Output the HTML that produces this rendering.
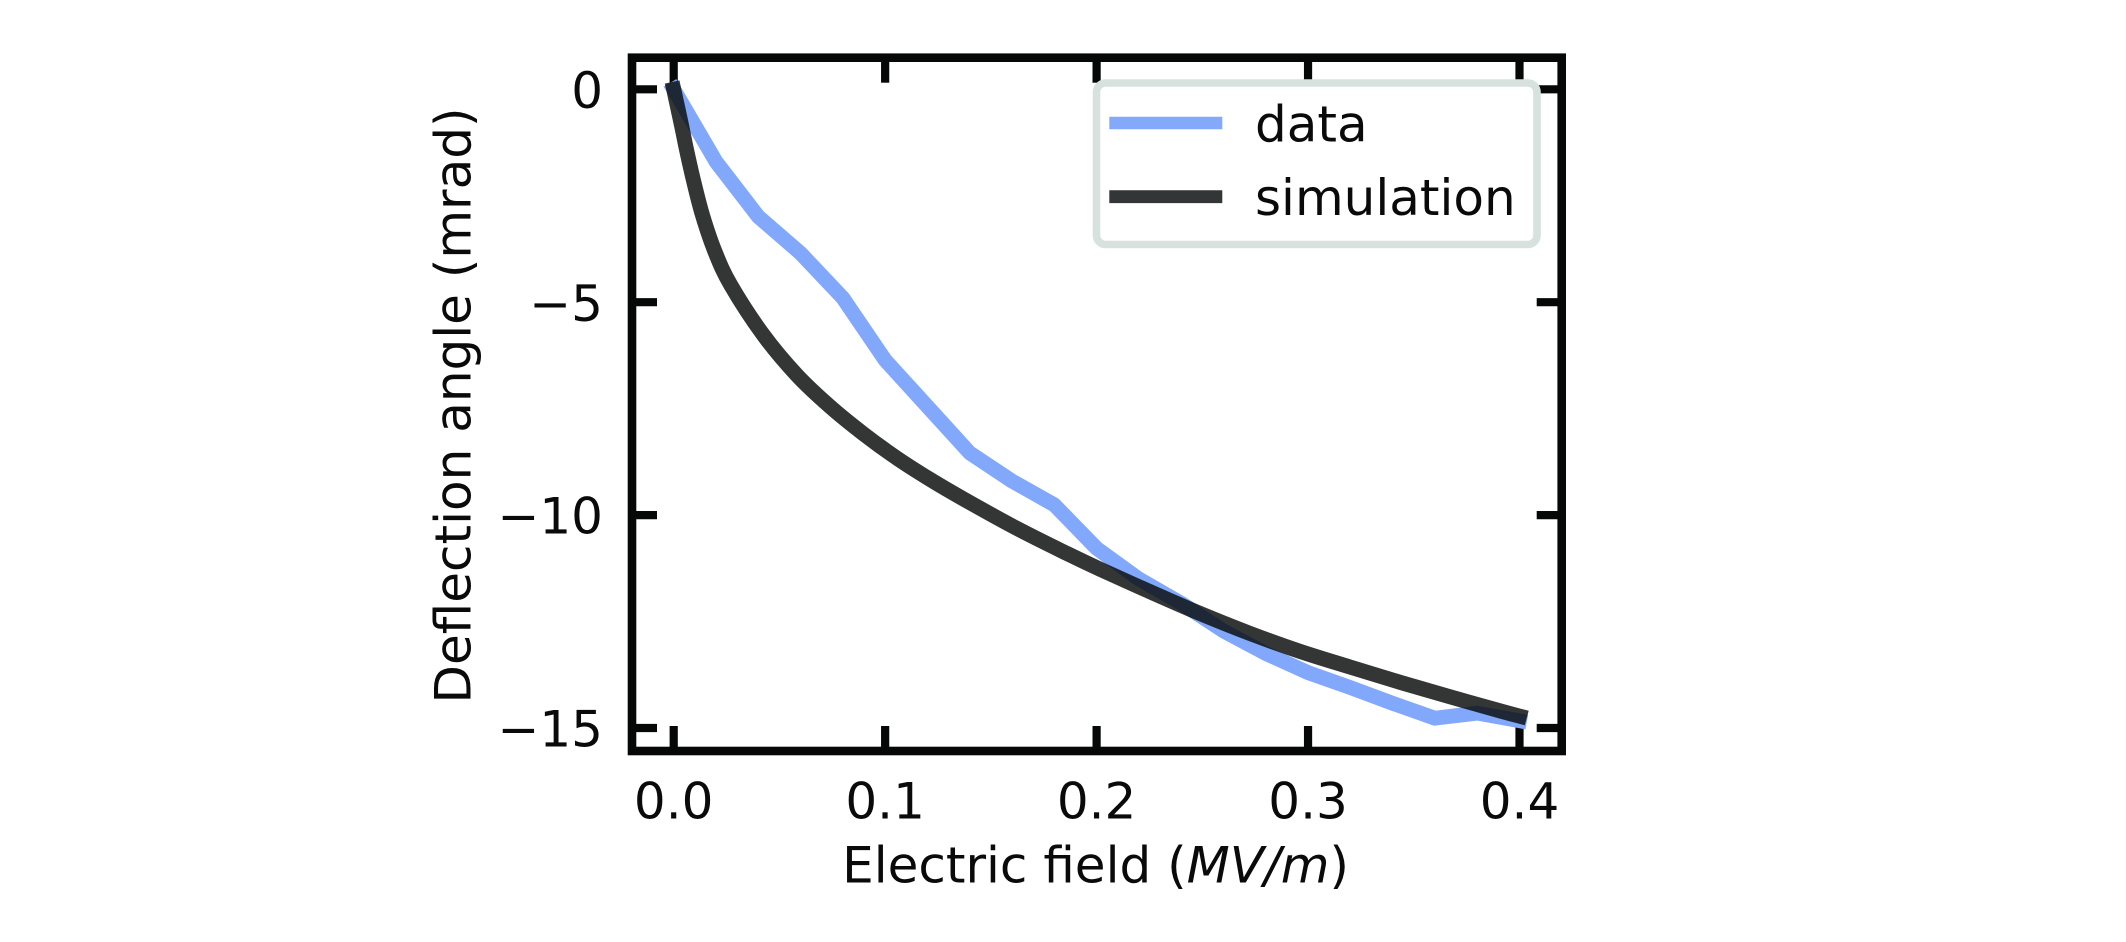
<!DOCTYPE html>
<html lang="en">
<head>
<meta charset="utf-8">
<title>Deflection angle vs electric field</title>
<style>
  html, body { margin: 0; padding: 0; background: #fff; }
  svg { display: block; }
  text { font-family: "DejaVu Sans", "Liberation Sans", sans-serif; font-size: 50px; fill: #0a0a0a; }
</style>
</head>
<body>
<svg id="chart" width="2126" height="942" viewBox="0 0 2126 942" xmlns="http://www.w3.org/2000/svg">
  <rect x="0" y="0" width="2126" height="942" fill="#ffffff"/>
  <g id="ticks"></g>
  <g id="series"></g>
  <rect x="632" y="57.7" width="929.7" height="693.3" fill="none" stroke="#060808" stroke-width="8.6" stroke-linejoin="miter"/>
  <g id="tick-labels"></g>
  <text x="1095.6" y="882.7" text-anchor="middle">Electric field (<tspan font-style="italic">MV/m</tspan>)</text>
  <text transform="translate(470.7 405.5) rotate(-90)" text-anchor="middle">Deflection angle (mrad)</text>
  <g>
    <rect x="1096.5" y="83" width="440.5" height="161.5" rx="9" ry="9" fill="#ffffff" stroke="#d7e1de" stroke-width="7.6"/>
    <line x1="1109.3" y1="123" x2="1222.3" y2="123" stroke="#84a9fb" stroke-width="12.6"/>
    <text x="1255" y="141.5">data</text>
    <line x1="1109.3" y1="196.7" x2="1222.3" y2="196.7" stroke="#333636" stroke-width="12.8"/>
    <text x="1255" y="215">simulation</text>
  </g>
</svg>
<script>
const xTickValues = [0, 0.1, 0.2, 0.3, 0.4];
const xTickLabels = ['0.0', '0.1', '0.2', '0.3', '0.4'];
const yTickValues = [0, -5, -10, -15];
const yTickLabels = ['0', '\u22125', '\u221210', '\u221215'];

const dataField = [0, 0.02, 0.04, 0.06, 0.08, 0.10, 0.12, 0.14, 0.16, 0.18, 0.20, 0.22, 0.24, 0.26, 0.28, 0.30, 0.32, 0.34, 0.36, 0.38, 0.40];
const dataAngle = [0, -1.70, -2.99, -3.85, -4.90, -6.36, -7.45, -8.54, -9.20, -9.76, -10.78, -11.50, -12.07, -12.72, -13.25, -13.70, -14.05, -14.42, -14.77, -14.65, -14.83];

const simField = [0, 0.0035, 0.0062, 0.0095, 0.0137, 0.0195, 0.027, 0.0424, 0.0582, 0.0739, 0.0897, 0.1055, 0.1212, 0.137, 0.1622, 0.1859, 0.2016, 0.2253, 0.2489, 0.2726, 0.2962, 0.32, 0.3437, 0.3674, 0.391, 0.40];
const simAngle = [0, -0.80, -1.45, -2.17, -2.97, -3.81, -4.60, -5.77, -6.71, -7.45, -8.09, -8.66, -9.16, -9.62, -10.31, -10.90, -11.27, -11.80, -12.31, -12.78, -13.20, -13.57, -13.93, -14.27, -14.60, -14.72];

const NS = 'http://www.w3.org/2000/svg';
const xScale = v => 673.7 + 2114.5 * v;
const yScale = v => 89.3 - 42.58 * v;
const TICK_LEN = 25;
const FRAME = { left: 632, right: 1561.7, top: 57.7, bottom: 751 };

function make(tag, attrs, parent) {
  const el = document.createElementNS(NS, tag);
  Object.keys(attrs).forEach(k => el.setAttribute(k, attrs[k]));
  parent.appendChild(el);
  return el;
}

const tickGroup = document.getElementById('ticks');
const labelGroup = document.getElementById('tick-labels');
const seriesGroup = document.getElementById('series');
const tickStyle = { stroke: '#060808', 'stroke-width': 8.2 };

xTickValues.forEach((v, i) => {
  const x = xScale(v);
  const bottom = make('line', Object.assign({ x1: x, x2: x, y1: FRAME.bottom, y2: FRAME.bottom - TICK_LEN }, tickStyle), tickGroup);
  
  
  const top = make('line', Object.assign({ x1: x, x2: x, y1: FRAME.top, y2: FRAME.top + TICK_LEN }, tickStyle), tickGroup);
  
  
  const label = make('text', { x: x, y: 818.3, 'text-anchor': 'middle' }, labelGroup);
  label.textContent = xTickLabels[i];
  
  
});

yTickValues.forEach((v, i) => {
  const y = yScale(v);
  const left = make('line', Object.assign({ x1: FRAME.left, x2: FRAME.left + TICK_LEN, y1: y, y2: y }, tickStyle), tickGroup);
  
  
  const right = make('line', Object.assign({ x1: FRAME.right, x2: FRAME.right - TICK_LEN, y1: y, y2: y }, tickStyle), tickGroup);
  
  
  const label = make('text', { x: 603, y: y + 18.6, 'text-anchor': 'end' }, labelGroup);
  label.textContent = yTickLabels[i];
  
  
});

function pointsFor(xs, ys) {
  return xs.map((v, i) => [xScale(v), yScale(ys[i])]);
}

function polyPath(pts) {
  return pts.map((p, i) => (i ? 'L' : 'M') + p[0].toFixed(2) + ' ' + p[1].toFixed(2)).join(' ');
}

function smoothPath(pts) {
  let d = 'M' + pts[0][0].toFixed(2) + ' ' + pts[0][1].toFixed(2);
  for (let i = 0; i < pts.length - 1; i++) {
    const p0 = pts[Math.max(i - 1, 0)];
    const p1 = pts[i];
    const p2 = pts[i + 1];
    const p3 = pts[Math.min(i + 2, pts.length - 1)];
    const c1x = p1[0] + (p2[0] - p0[0]) / 6;
    const c1y = p1[1] + (p2[1] - p0[1]) / 6;
    const c2x = p2[0] - (p3[0] - p1[0]) / 6;
    const c2y = p2[1] - (p3[1] - p1[1]) / 6;
    d += ' C' + c1x.toFixed(2) + ' ' + c1y.toFixed(2) + ' ' + c2x.toFixed(2) + ' ' + c2y.toFixed(2) + ' ' + p2[0].toFixed(2) + ' ' + p2[1].toFixed(2);
  }
  return d;
}

const dataLine = make('path', {
  d: polyPath(pointsFor(dataField, dataAngle)),
  fill: 'none', stroke: '#82a8fb', 'stroke-width': 14.8,
  'stroke-linejoin': 'round', 'stroke-linecap': 'square'
}, seriesGroup);



const simLine = make('path', {
  d: smoothPath(pointsFor(simField, simAngle)),
  fill: 'none', stroke: '#0a0d0c', 'stroke-opacity': 0.83, 'stroke-width': 15,
  'stroke-linejoin': 'round', 'stroke-linecap': 'square'
}, seriesGroup);


</script>
</body>
</html>
